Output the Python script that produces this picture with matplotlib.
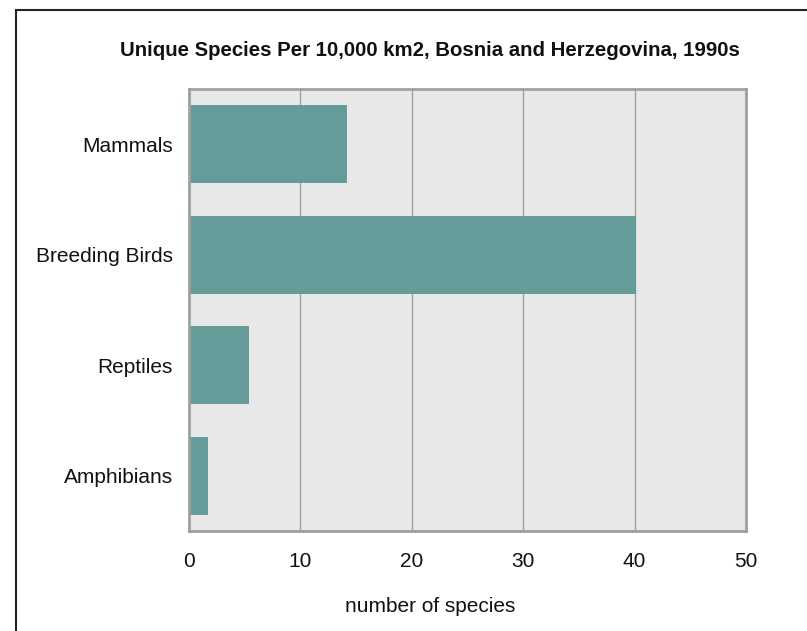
import matplotlib.pyplot as plt
from matplotlib.patches import Rectangle

plt.rcParams['font.family'] = ['Liberation Sans', 'DejaVu Sans']

categories = ['Mammals', 'Breeding Birds', 'Reptiles', 'Amphibians']
species = [14.2, 40.1, 5.4, 1.7]
x_ticks = [0, 10, 20, 30, 40, 50]

BAR_COLOR = '#659c9a'
GRID_COLOR = '#a0a0a0'

fig = plt.figure(figsize=(8.07, 6.31), dpi=100)
W, H = 807, 631
ax = fig.add_axes([189 / W, 1 - 531 / H, (746 - 189) / W, (531 - 89) / H])
ax.set_facecolor('#e8e8e8')

ypos = list(range(len(categories)))
ax.barh(ypos, species, height=0.71, color=BAR_COLOR, zorder=3)
ax.set_ylim(len(categories) - 0.5, -0.5)
ax.set_xlim(0, 50)
ax.set_yticks(ypos)
ax.set_yticklabels(categories)
ax.set_xticks(x_ticks)
ax.tick_params(length=0, labelsize=15, colors='#111111')
ax.tick_params(axis='y', pad=11.5)
ax.tick_params(axis='x', pad=15)
ax.grid(axis='x', color=GRID_COLOR, linewidth=1, zorder=1)
for s in ax.spines.values():
    s.set_color(GRID_COLOR)
    s.set_linewidth(2)
    s.set_zorder(4)

fig.text(430 / W, 1 - 606 / H, 'number of species', ha='center', va='center',
         fontsize=15, color='#111111')
fig.text(430 / W, 1 - 51 / H, 'Unique Species Per 10,000 km2, Bosnia and Herzegovina, 1990s',
         ha='center', va='center', fontsize=14.7, fontweight='bold', color='#111111')

# outer frame of the chart box
fig.patches.append(Rectangle((16 / W, -0.1), 1.1, 1 - 10 / H + 0.1, transform=fig.transFigure,
                             fill=False, edgecolor='#222222', linewidth=1.5))

fig.savefig('out.png', dpi=100, facecolor='white')
